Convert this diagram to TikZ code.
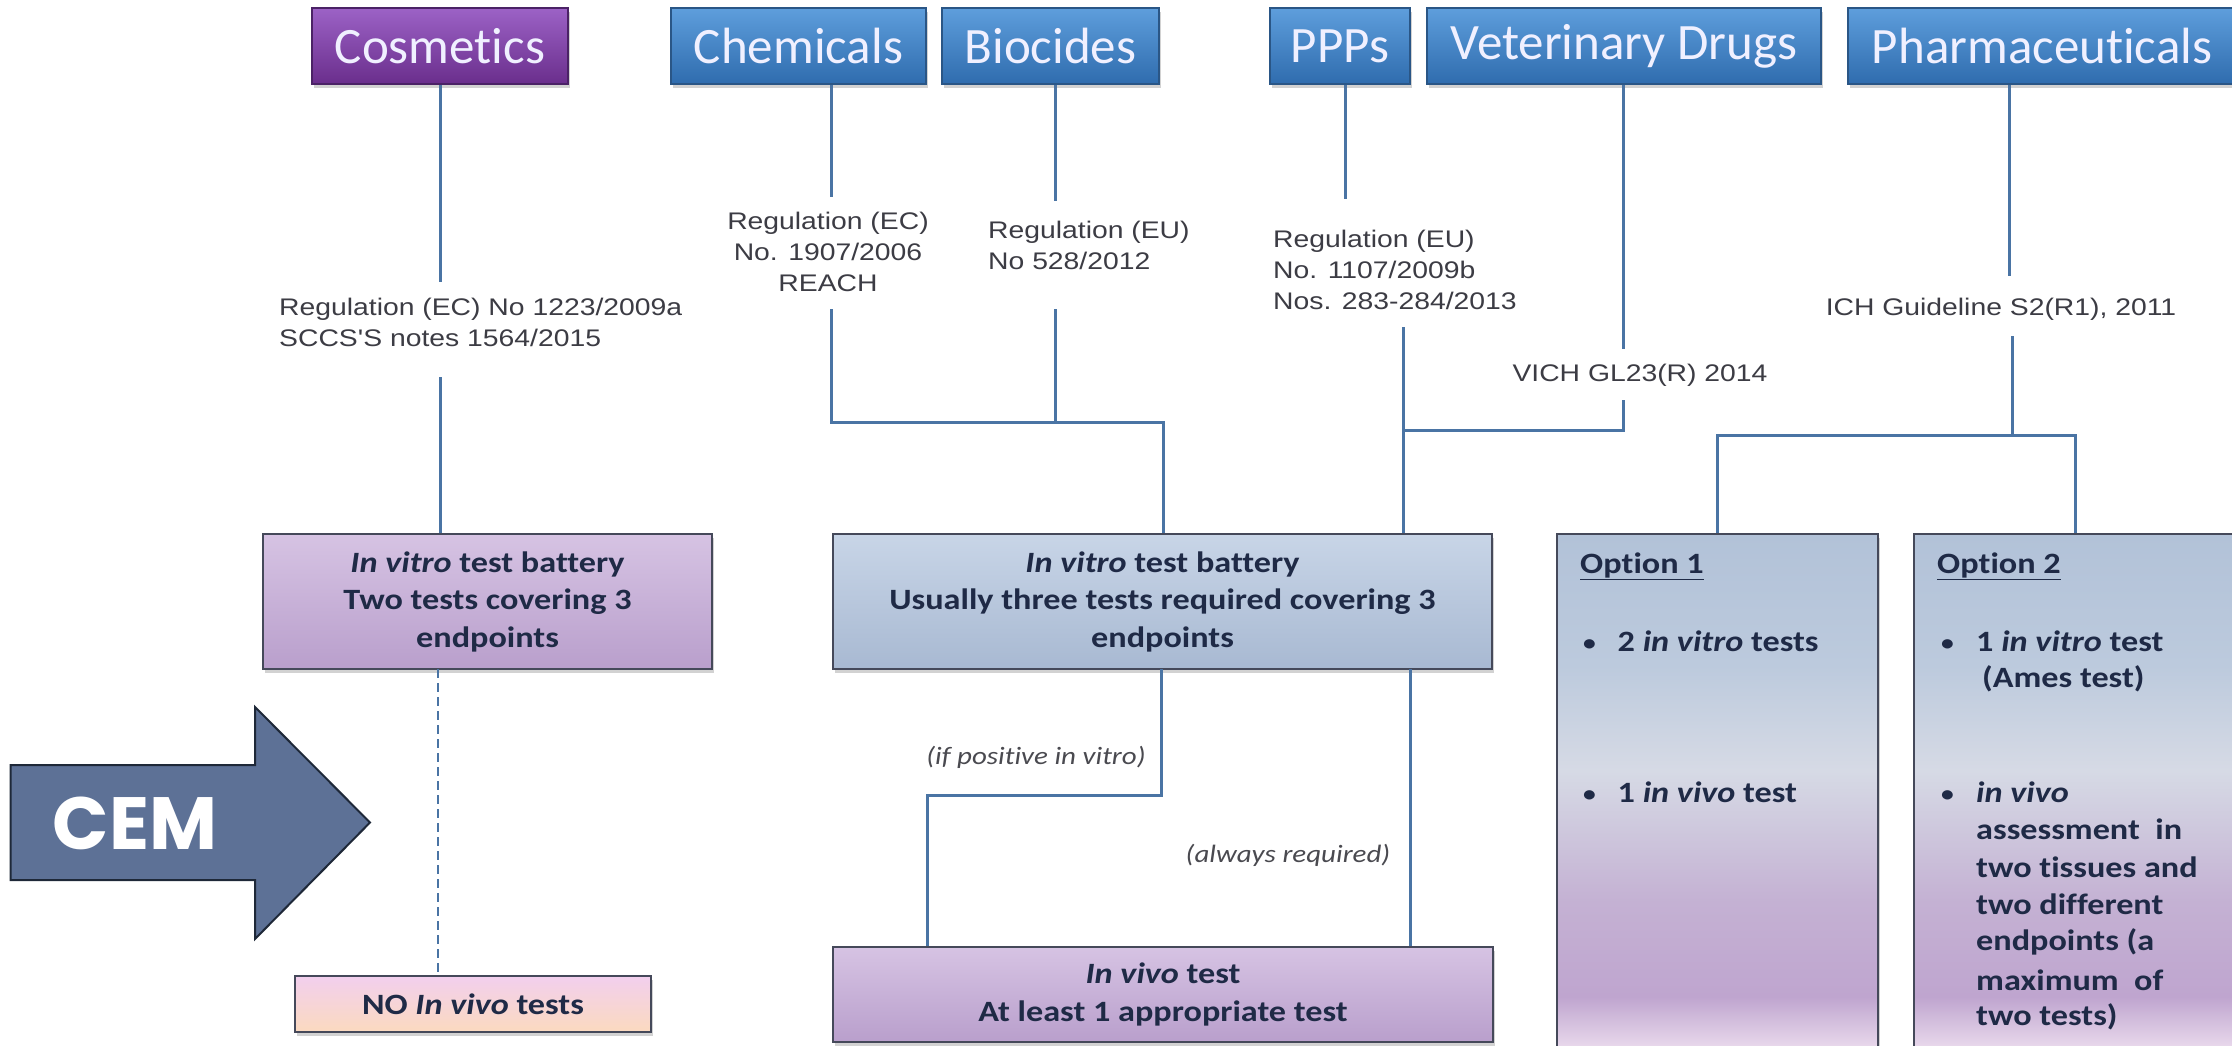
\documentclass[tikz,border=0pt]{standalone}
\usepackage{fontspec}
\setmainfont{Carlito}[Ligatures=NoCommon]
\newfontfamily\boxfont[FakeStretch=1.16, Ligatures=NoCommon]{Carlito}
\newfontfamily\regfont[FakeStretch=1.18]{Liberation Sans}
\newfontfamily\cemfont{Poppins}
\usetikzlibrary{shadows}
\definecolor{blueT}{HTML}{5E9EDC}
\definecolor{blueB}{HTML}{2F6CAE}
\definecolor{blueBd}{HTML}{2A5686}
\definecolor{purT}{HTML}{9C62C6}
\definecolor{purB}{HTML}{6A2E8C}
\definecolor{purBd}{HTML}{4B2266}
\definecolor{lpT}{HTML}{D6C3E3}
\definecolor{lpB}{HTML}{B99FCC}
\definecolor{lbT}{HTML}{C8D5E7}
\definecolor{lbB}{HTML}{A8B9D2}
\definecolor{pkT}{HTML}{F2CFEE}
\definecolor{pkB}{HTML}{FBDABF}
\definecolor{midBd}{HTML}{45495A}
\definecolor{navy}{HTML}{1F2A46}
\definecolor{linec}{HTML}{4A74A4}
\definecolor{regc}{HTML}{3C3C44}
\definecolor{labc}{HTML}{4A4A50}
\definecolor{cemfill}{HTML}{5D7196}
\definecolor{cembd}{HTML}{1E2838}
\definecolor{obot}{HTML}{F3E6F3}
\definecolor{opurp}{HTML}{BFA5CF}
\definecolor{opurp2}{HTML}{C4B1D3}
\definecolor{olight}{HTML}{D6DAE5}
\definecolor{oblue2}{HTML}{BCCADD}
\definecolor{oblue}{HTML}{B2C2D8}
\pgfdeclareverticalshading{optshade}{100bp}{color(0bp)=(obot); color(25bp)=(obot); color(31bp)=(opurp); color(40bp)=(opurp2); color(52.5bp)=(olight); color(62.5bp)=(oblue2); color(75bp)=(oblue); color(100bp)=(oblue)}
\newcommand{\bul}[1]{\makebox[#1][l]{\fontsize{22}{22}\selectfont\raisebox{1pt}{\textbullet}}}
\tikzset{
  shad/.style={drop shadow={opacity=0.35, shadow xshift=2pt, shadow yshift=-4pt}},
  topbox/.style={rectangle, shad, line width=1.5pt, text=white!94!blue, inner sep=0pt,
     minimum height=76pt, font=\fontsize{51}{55}\selectfont},
  bluebox/.style={topbox, draw=blueBd, top color=blueT, bottom color=blueB},
  purbox/.style={topbox, draw=purBd, top color=purT, bottom color=purB},
  midbox/.style={rectangle, shad, draw=midBd, line width=2.5pt, inner sep=0pt, align=center,
     text=navy, font=\boxfont\bfseries\fontsize{29.5}{37.5}\selectfont},
  lpbox/.style={midbox, top color=lpT, bottom color=lpB},
  lbbox/.style={midbox, top color=lbT, bottom color=lbB},
  pkbox/.style={midbox, top color=pkT, bottom color=pkB},
  optbox/.style={rectangle, shad, draw=midBd, line width=2.5pt, shading=optshade},
  regtext/.style={inner sep=0pt, text=regc, font=\regfont\fontsize{24}{31}\selectfont},
  labtext/.style={inner sep=0pt, text=labc, font=\boxfont\itshape\fontsize{25}{30}\selectfont},
  otext/.style={inner sep=0pt, anchor=west, text=navy, font=\boxfont\bfseries\fontsize{29.5}{37.5}\selectfont},
  conn/.style={draw=linec, line width=3pt},
}
\begin{document}
\begin{tikzpicture}[x=1pt,y=1pt]
\useasboundingbox[fill=white] (0,0) rectangle (2232,-1045);
% top boxes
\node[purbox, minimum width=256pt] (cosm) at (440,-46) {Cosmet\kern0pt ics};
\node[bluebox, minimum width=255pt] (chem) at (798.5,-46) {Chemicals};
\node[bluebox, minimum width=217pt] (bioc) at (1050.5,-46) {Biocides};
\node[bluebox, minimum width=140pt] (ppps) at (1340,-46) {PPPs};
\node[bluebox, minimum width=394pt] (vet) at (1624,-46) {Veterinary Drugs};
\node[bluebox, minimum width=402pt] (pharma) at (2049,-46) {\hspace*{-14pt}Pharmaceut\kern0pt icals};
% middle / lower boxes
\node[lpbox, minimum width=449pt, minimum height=135pt] (civ) at (487.5,-601.5)
  {\textit{In vitro} test battery\\Two tests covering 3\\endpoints};
\node[lbbox, minimum width=659pt, minimum height=135pt] (chiv) at (1162.5,-601.5)
  {\textit{In vitro} test battery\\Usually three tests required covering 3\\endpoints};
\node[optbox, minimum width=321pt, minimum height=526pt] (opt1) at (1717.5,-797) {};
\node[optbox, minimum width=336pt, minimum height=526pt] (opt2) at (2082,-797) {};
\node[pkbox, minimum width=356pt, minimum height=56pt] (noinv) at (473,-1004) {NO \textit{In vivo} tests};
\node[lpbox, minimum width=660pt, minimum height=95pt] (inviv) at (1163,-994.5)
  {\textit{In vivo} test\\At least 1 appropriate test};
% regulation texts
\node[regtext, anchor=west, align=left] (reg1) at (279,-322.5) {Regulation (EC) No 1223/2009a\\SCCS'S notes 1564/2015};
\node[regtext, align=center] (reg2) at (828,-252) {Regulation (EC)\\No. 1907/2006\\REACH};
\node[regtext, anchor=west, align=left] (reg3) at (988,-245.5) {Regulation (EU)\\No 528/2012};
\node[regtext, anchor=west, align=left] (reg4) at (1273,-270) {Regulation (EU)\\No. 1107/2009b\\Nos. 283-284/2013};
\node[regtext] (vich) at (1640,-375) {VICH GL23(R) 2014};
\node[regtext] (ich) at (2001,-309) {ICH Guideline S2(R1), 2011};
\node[labtext] (ifpos) at (1036,-757) {(if positive in vitro)};
\node[labtext] (always) at (1288,-855) {(always required)};
% connector coordinates
\coordinate (k1) at (440,-282); \coordinate (k2) at (440,-377);
\coordinate (k3) at (831,-197); \coordinate (k4) at (831,-309); \coordinate (j1) at (1163,-422);
\coordinate (k5) at (1055,-201); \coordinate (k6) at (1055,-309);
\coordinate (k7) at (1345,-199); \coordinate (k8) at (1403,-327);
\coordinate (k9) at (1623,-349); \coordinate (k10) at (1623,-400); \coordinate (j2) at (1403,-430);
\coordinate (k11) at (2009,-276); \coordinate (k12) at (2012,-336); \coordinate (j3) at (2012,-435);
\coordinate (j4) at (2075,-435);
\coordinate (j5) at (927,-795); \coordinate (k13) at (1161,-669); \coordinate (k14) at (1410,-669);
\coordinate (k15) at (438,-669);
% connectors
\draw[conn] (cosm.south) -- (k1);
\draw[conn] (k2) -- (k2 |- civ.north);
\draw[conn] (chem.south -| k3) -- (k3);
\draw[conn] (k4) |- (j1) -- (j1 |- chiv.north);
\draw[conn] (bioc.south -| k5) -- (k5);
\draw[conn] (k6) -- (k6 |- j1);
\draw[conn] (ppps.south -| k7) -- (k7);
\draw[conn] (k8) -- (k8 |- chiv.north);
\draw[conn] (vet.south -| k9) -- (k9);
\draw[conn] (k10) |- (j2);
\draw[conn] (pharma.south -| k11) -- (k11);
\draw[conn] (k12) -- (j3);
\draw[conn] (opt1.north) |- (j4) -- (j4 |- opt2.north);
\draw[conn] (k13) |- (j5) -- (j5 |- inviv.north);
\draw[conn] (k14) -- (k14 |- inviv.north);
\draw[conn, line width=2pt, dash pattern=on 9pt off 5pt] (k15) -- (k15 |- noinv.north);
% option texts
\node[otext] (o1t) at (1580,-566) {\underline{Option 1}};
\node[otext] (o1a) at (1583,-641) {\bul{34.5pt}2 \textit{in vitro} tests};
\node[otext] (o1b) at (1583,-792) {\bul{34.5pt}1 \textit{in vivo} test};
\node[otext] (o2t) at (1937,-566) {\underline{Option 2}};
\node[otext] (o2a) at (1941,-641) {\bul{35pt}1 \textit{in vitro} test};
\node[otext] (o2b) at (1982,-679) {(Ames test)};
\node[otext] (o2c) at (1941,-792) {\bul{35pt}\textit{in vivo}};
\node[otext] (o2d) at (1976,-829) {assessment\ \ in};
\node[otext] (o2e) at (1976,-867) {two tissues and};
\node[otext] (o2f) at (1976,-904) {two different};
\node[otext] (o2g) at (1976,-942) {endpoints (a};
\node[otext] (o2h) at (1976,-980) {maximum\ \ of};
\node[otext] (o2i) at (1976,-1017) {two tests)};
% CEM arrow
\draw[fill=cemfill, draw=cembd, line width=2pt]
  (10.5,-765) -- (255,-765) -- (255,-707) -- (370,-822.5) -- (255,-939) -- (255,-880) -- (10.5,-880) -- cycle;
\node[text=white, inner sep=0pt, font=\cemfont\bfseries\fontsize{74}{80}\selectfont] (cem) at (135,-823) {CEM};
\end{tikzpicture}
\end{document}
